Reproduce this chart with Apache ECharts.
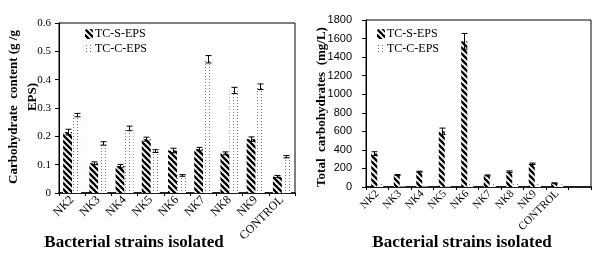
<!DOCTYPE html>
<html>
<head>
<meta charset="utf-8">
<script src="https://cdn.jsdelivr.net/npm/echarts@6/dist/echarts.min.js"></script>
<style>
  html, body { margin: 0; padding: 0; background: #fff; }
  #chart { width: 603px; height: 259px; }
</style>
</head>
<body>
<div id="chart"></div>
<script>
// left panel: carbohydrate content (g/g EPS)
const strains = ["NK2", "NK3", "NK4", "NK5", "NK6", "NK7", "NK8", "NK9", "CONTROL"];
const sContent = [0.215, 0.105, 0.095, 0.19, 0.15, 0.155, 0.14, 0.19, 0.058];
const sContentErr = [0.01, 0.005, 0.006, 0.007, 0.008, 0.006, 0.005, 0.008, 0.004];
const cContent = [0.275, 0.175, 0.228, 0.148, 0.062, 0.472, 0.362, 0.375, 0.128];
const cContentErr = [0.006, 0.006, 0.008, 0.005, 0.003, 0.013, 0.011, 0.01, 0.004];
const contentTicks = [0, 0.1, 0.2, 0.3, 0.4, 0.5, 0.6];

// right panel: total carbohydrates (mg/L), last category is empty
const strains2 = ["NK2", "NK3", "NK4", "NK5", "NK6", "NK7", "NK8", "NK9", "CONTROL", ""];
const sTotal = [360, 130, 165, 600, 1570, 125, 165, 250, 40, 0];
const sTotalErr = [20, 5, 5, 35, 85, 5, 8, 8, 5, 0];
const cTotal = [45, 5, 5, 8, 60, 50, 40, 40, 30, 0];
const totalTicks = [0, 200, 400, 600, 800, 1000, 1200, 1400, 1600, 1800];

const serif = "Liberation Serif, Times New Roman, serif";

function hatchPattern() {
  const c = document.createElement("canvas");
  c.width = 6; c.height = 6;
  const ctx = c.getContext("2d");
  ctx.fillStyle = "#fff";
  ctx.fillRect(0, 0, 6, 6);
  ctx.strokeStyle = "#000";
  ctx.lineWidth = 2.4;
  [-6, 0, 6].forEach(k => {
    ctx.beginPath();
    ctx.moveTo(k - 1, -1);
    ctx.lineTo(k + 7, 7);
    ctx.stroke();
  });
  return { image: c, repeat: "repeat" };
}

function dotPattern() {
  const c = document.createElement("canvas");
  c.width = 4; c.height = 3;
  const ctx = c.getContext("2d");
  ctx.fillStyle = "#fff";
  ctx.fillRect(0, 0, 4, 3);
  ctx.fillStyle = "#777";
  ctx.fillRect(1, 1, 1, 1);
  return { image: c, repeat: "repeat" };
}

const hatch = hatchPattern();
const dots = dotPattern();

function errSeries(name, idx, vals, errs, offset, cap) {
  return {
    name: name,
    type: "custom",
    xAxisIndex: idx,
    yAxisIndex: idx,
    silent: true,
    z: 5,
    data: vals.map((v, i) => [i, v, errs[i]]),
    renderItem: function (params, api) {
      const i = api.value(0);
      const v = api.value(1);
      const e = api.value(2);
      if (!e) return null;
      const hi = api.coord([i, v + e]);
      const lo = api.coord([i, v - e]);
      const x = Math.round(hi[0] + offset) + 0.5;
      const st = { stroke: "#000", lineWidth: 1 };
      return {
        type: "group",
        children: [
          { type: "line", shape: { x1: x, y1: hi[1], x2: x, y2: lo[1] }, style: st },
          { type: "line", shape: { x1: x - cap, y1: hi[1], x2: x + cap, y2: hi[1] }, style: st },
          { type: "line", shape: { x1: x - cap, y1: lo[1], x2: x + cap, y2: lo[1] }, style: st }
        ]
      };
    }
  };
}

const chart = echarts.init(document.getElementById("chart"));

const legendText = { fontFamily: serif, fontSize: 12, color: "#000", padding: [0, 0, 0, -3] };

chart.setOption({
  animation: false,
  legend: [
    {
      left: 80, top: 23, orient: "vertical", itemGap: 3,
      itemWidth: 8, itemHeight: 10, textStyle: legendText,
      data: ["TC-S-EPS", "TC-C-EPS"]
    },
    {
      left: 372, top: 23, orient: "vertical", itemGap: 3,
      itemWidth: 8, itemHeight: 10, textStyle: legendText,
      data: ["TC-S-EPS", "TC-C-EPS"]
    }
  ],
  grid: [
    { left: 59, top: 23, right: 308, bottom: 66, show: true, borderColor: "#000", borderWidth: 1 },
    { left: 366, top: 20, right: 12, bottom: 72, show: true, borderColor: "#000", borderWidth: 1 }
  ],
  xAxis: [
    {
      type: "category", gridIndex: 0, data: strains,
      axisLine: { lineStyle: { color: "#000", width: 1.5 } },
      axisTick: { show: true, length: 3, lineStyle: { color: "#000" } },
      axisLabel: { rotate: 45, fontFamily: serif, fontSize: 12, color: "#000", margin: 5, interval: 0 }
    },
    {
      type: "category", gridIndex: 1, data: strains2,
      axisLine: { lineStyle: { color: "#000", width: 1.5 } },
      axisTick: { show: true, length: 3, lineStyle: { color: "#000" } },
      axisLabel: { rotate: 45, fontFamily: serif, fontSize: 11, color: "#000", margin: 5, interval: 0 }
    }
  ],
  yAxis: [
    {
      type: "value", gridIndex: 0, min: 0, max: 0.6, interval: 0.1,
      axisLine: { show: true, lineStyle: { color: "#000" } },
      axisTick: { show: true, length: 4, lineStyle: { color: "#000" } },
      splitLine: { show: false },
      axisLabel: {
        fontFamily: serif, fontSize: 11, color: "#000", margin: 8,
        formatter: v => contentTicks.includes(+v.toFixed(1)) ? String(+v.toFixed(1)) : ""
      }
    },
    {
      type: "value", gridIndex: 1, min: 0, max: 1800, interval: 200,
      axisLine: { show: true, lineStyle: { color: "#000" } },
      axisTick: { show: true, length: 4, lineStyle: { color: "#000" } },
      splitLine: { show: false },
      axisLabel: {
        fontFamily: "Liberation Sans, Arial, sans-serif", fontSize: 11, color: "#000", margin: 14,
        formatter: v => totalTicks.includes(v) ? String(v) : ""
      }
    }
  ],
  series: [
    {
      name: "TC-S-EPS", type: "bar", xAxisIndex: 0, yAxisIndex: 0,
      data: sContent, barWidth: 9, barGap: "0%",
      itemStyle: { color: hatch }
    },
    {
      name: "TC-C-EPS", type: "bar", xAxisIndex: 0, yAxisIndex: 0,
      data: cContent, barWidth: 9, barGap: "0%",
      itemStyle: { color: dots }
    },
    errSeries("errS1", 0, sContent, sContentErr, -4.5, 3),
    errSeries("errC1", 0, cContent, cContentErr, 4.5, 3),
    {
      name: "TC-S-EPS", type: "bar", xAxisIndex: 1, yAxisIndex: 1,
      data: sTotal, barWidth: 6, barGap: "0%",
      itemStyle: { color: hatch }
    },
    {
      name: "TC-C-EPS", type: "bar", xAxisIndex: 1, yAxisIndex: 1,
      data: cTotal, barWidth: 6, barGap: "0%",
      itemStyle: { color: dots }
    },
    errSeries("errS2", 1, sTotal, sTotalErr, -3, 3)
  ],
  graphic: [
    {
      type: "text", x: 14, y: 107, rotation: Math.PI / 2,
      style: {
        text: "Carbohydrate  content (g /g", fontFamily: serif, fontSize: 13, fontWeight: "bold",
        fill: "#000", align: "center", verticalAlign: "middle"
      }
    },
    {
      type: "text", x: 33, y: 97, rotation: Math.PI / 2,
      style: {
        text: "EPS)", fontFamily: serif, fontSize: 13, fontWeight: "bold",
        fill: "#000", align: "center", verticalAlign: "middle"
      }
    },
    {
      type: "text", x: 322, y: 107, rotation: Math.PI / 2,
      style: {
        text: "Total  carbohydrates  (mg/L)", fontFamily: serif, fontSize: 13, fontWeight: "bold",
        fill: "#000", align: "center", verticalAlign: "middle"
      }
    },
    {
      type: "text", x: 134, y: 243,
      style: {
        text: "Bacterial strains isolated", fontFamily: serif, fontSize: 17, fontWeight: "bold",
        fill: "#000", align: "center", verticalAlign: "middle"
      }
    },
    {
      type: "text", x: 462, y: 243,
      style: {
        text: "Bacterial strains isolated", fontFamily: serif, fontSize: 17, fontWeight: "bold",
        fill: "#000", align: "center", verticalAlign: "middle"
      }
    }
  ]
});
</script>
</body>
</html>
